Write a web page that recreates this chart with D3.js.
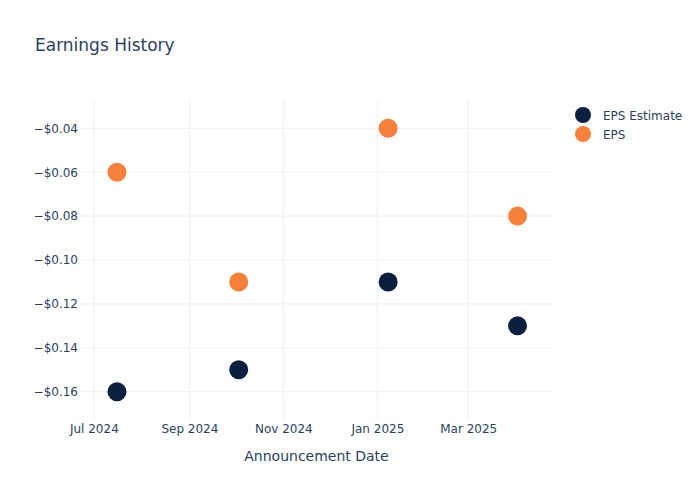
<!DOCTYPE html>
<html>
<head>
<meta charset="utf-8">
<script src="https://cdn.jsdelivr.net/npm/d3@7"></script>
<style>
  body { margin: 0; background: #fff; }
  text { font-family: "DejaVu Sans", Verdana, sans-serif; fill: #2a3f5f; }
</style>
</head>
<body>
<div class="chart"></div>
<script>
// Earnings history scatter

var dates = ["2024-07-16", "2024-10-03", "2025-01-08", "2025-04-02"];
var eps_estimate = [-0.16, -0.15, -0.11, -0.13];
var eps_actual = [-0.06, -0.11, -0.04, -0.08];
var y_ticks = [-0.04, -0.06, -0.08, -0.10, -0.12, -0.14, -0.16];
var x_ticks = ["2024-07-01", "2024-09-01", "2024-11-01", "2025-01-01", "2025-03-01"];
var series_names = ["EPS Estimate", "EPS"];
var series_colors = ["#0b1f41", "#f7813a"];

var width = 700, height = 500;
var margin = {top: 100, right: 147, bottom: 80, left: 80};

var parse = d3.timeParse("%Y-%m-%d");

var svg = d3.select(".chart")
    .append("svg")
        .attr("width", width)
        .attr("height", height);

var x = d3.scaleTime()
    .domain([parse("2024-06-22"), parse("2025-04-25")])
    .range([margin.left, width - margin.right]);

var y = d3.scaleLinear()
    .domain([-0.1729, -0.0271])
    .range([height - margin.bottom, margin.top]);

// grid
svg.append("g")
    .selectAll("line")
    .data(x_ticks)
    .enter()
        .append("line")
        .attr("x1", function(d) { return x(parse(d)); })
        .attr("x2", function(d) { return x(parse(d)); })
        .attr("y1", margin.top)
        .attr("y2", height - margin.bottom)
        .attr("stroke", "#ebf0f8");

svg.append("g")
    .selectAll("line")
    .data(y_ticks)
    .enter()
        .append("line")
        .attr("x1", margin.left)
        .attr("x2", width - margin.right)
        .attr("y1", function(d) { return y(d); })
        .attr("y2", function(d) { return y(d); })
        .attr("stroke", "#ebf0f8");

// axes
var x_axis = d3.axisBottom(x)
    .tickValues(x_ticks.map(parse))
    .tickFormat(d3.timeFormat("%b %Y"))
    .tickSize(0)
    .tickPadding(4);

var y_axis = d3.axisLeft(y)
    .tickValues(y_ticks)
    .tickFormat(function(d) { return "\u2212$" + Math.abs(d).toFixed(2); })
    .tickSize(0)
    .tickPadding(2);

var gx = svg.append("g")
    .attr("transform", "translate(0," + (height - margin.bottom) + ")")
    .call(x_axis);
var gy = svg.append("g")
    .attr("transform", "translate(" + margin.left + ",0)")
    .call(y_axis);

gx.select(".domain").remove();
gy.select(".domain").remove();
svg.selectAll(".tick text")
    .attr("font-size", 12)
    .attr("font-family", null)
    .style("fill", "#2a3f5f");

// points
var series = [eps_estimate, eps_actual];
series.forEach(function(vals, s) {
    svg.append("g")
        .selectAll("circle")
        .data(vals)
        .enter()
            .append("circle")
            .attr("cx", function(d, i) { return x(parse(dates[i])); })
            .attr("cy", function(d) { return y(d); })
            .attr("r", 9.5)
            .style("fill", series_colors[s]);
});

// titles
svg.append("text")
    .attr("x", 35)
    .attr("y", 51)
    .attr("font-size", 17)
    .text("Earnings History");

svg.append("text")
    .attr("x", (margin.left + width - margin.right) / 2)
    .attr("y", 461)
    .attr("text-anchor", "middle")
    .attr("font-size", 14)
    .text("Announcement Date");

// legend
var legend = svg.append("g")
    .selectAll("g")
    .data(series_names)
    .enter()
        .append("g")
        .attr("transform", function(d, i) { return "translate(583," + (115 + i * 19) + ")"; });

legend.append("circle")
    .attr("r", 8)
    .style("fill", function(d, i) { return series_colors[i]; });

legend.append("text")
    .attr("x", 20)
    .attr("y", 4.5)
    .attr("font-size", 12)
    .text(function(d) { return d; });
</script>
</body>
</html>
